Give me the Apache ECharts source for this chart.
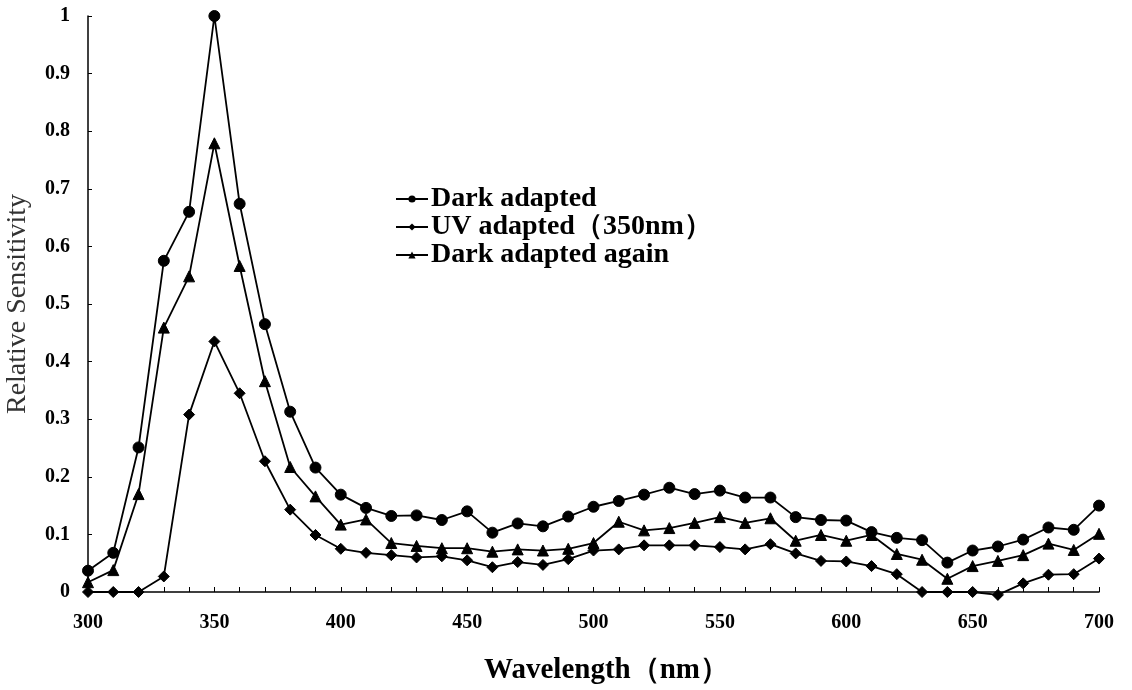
<!DOCTYPE html>
<html>
<head>
<meta charset="utf-8">
<script src="https://cdn.jsdelivr.net/npm/echarts@6/dist/echarts.min.js"></script>
<style>
html,body{margin:0;padding:0;background:#fff;}
#chart{width:1132px;height:690px;}
</style>
</head>
<body>
<div id="chart"></div>
<script>
const wavelengths = [300,310,320,330,340,350,360,370,380,390,400,410,420,430,440,450,460,470,480,490,500,510,520,530,540,550,560,570,580,590,600,610,620,630,640,650,660,670,680,690,700];
const darkAdapted = [0.037,0.068,0.251,0.575,0.660,1.000,0.674,0.465,0.313,0.216,0.169,0.146,0.132,0.133,0.125,0.140,0.103,0.119,0.114,0.131,0.148,0.158,0.169,0.181,0.170,0.176,0.164,0.164,0.130,0.125,0.124,0.104,0.094,0.090,0.051,0.072,0.079,0.091,0.112,0.108,0.150];
const uvAdapted = [0.000,0.000,0.000,0.027,0.308,0.435,0.345,0.227,0.143,0.099,0.075,0.068,0.064,0.060,0.062,0.055,0.043,0.052,0.047,0.057,0.072,0.074,0.081,0.081,0.081,0.078,0.074,0.083,0.067,0.054,0.053,0.045,0.031,0.000,0.000,0.000,-0.005,0.015,0.030,0.031,0.058];
const darkAgain = [0.017,0.038,0.170,0.459,0.548,0.779,0.566,0.366,0.217,0.166,0.117,0.126,0.085,0.080,0.076,0.076,0.070,0.074,0.072,0.075,0.085,0.122,0.107,0.111,0.120,0.130,0.120,0.128,0.089,0.099,0.089,0.099,0.066,0.056,0.023,0.045,0.054,0.064,0.084,0.073,0.101];
const seriesNames = ['Dark adapted', 'UV adapted（350nm）', 'Dark adapted again'];
const yTicks = ['0','0.1','0.2','0.3','0.4','0.5','0.6','0.7','0.8','0.9','1'];

const serif = '"Liberation Serif","Times New Roman","DejaVu Serif",serif';
const pair = arr => wavelengths.map((w, i) => [w, arr[i]]);

const chart = echarts.init(document.getElementById('chart'), null, {renderer: 'canvas'});
const lineStyle = {color: '#000', width: 1.8};
const itemStyle = {color: '#000', borderColor: '#000'};

chart.setOption({
  backgroundColor: '#fff',
  animation: false,
  grid: {left: 88, right: 33, top: 16, bottom: 98, outerBoundsMode: 'none', containLabel: false},
  legend: {
    show: true,
    orient: 'vertical',
    left: 390,
    top: 180,
    itemWidth: 32,
    itemHeight: 9,
    itemGap: 0,
    textStyle: {fontFamily: serif, fontWeight: 'bold', fontSize: 28, lineHeight: 26, color: '#000', padding: [0,0,0,-2]},
    data: seriesNames
  },
  xAxis: {
    type: 'value',
    min: 300, max: 700, interval: 50,
    name: 'Wavelength（nm）',
    nameLocation: 'middle',
    nameGap: 64,
    nameTextStyle: {fontFamily: serif, fontWeight: 'bold', fontSize: 29, color: '#000', padding: [0,0,0,26]},
    axisLine: {show: true, lineStyle: {color: '#000', width: 1.5}},
    axisTick: {show: true, inside: true, length: 5, lineStyle: {color: '#000'}},
    minorTick: {show: true, splitNumber: 5, length: 5, lineStyle: {color: '#000'}},
    axisLabel: {fontFamily: serif, fontWeight: 'bold', fontSize: 20, color: '#000', margin: 21},
    splitLine: {show: false},
    minorSplitLine: {show: false}
  },
  yAxis: {
    type: 'value',
    min: 0, max: 1, interval: 0.1,
    name: 'Relative Sensitivity',
    nameLocation: 'middle',
    nameGap: 56,
    nameTextStyle: {fontFamily: serif, fontSize: 28, color: '#333'},
    axisLine: {show: true, lineStyle: {color: '#000', width: 1.5}},
    axisTick: {show: true, inside: true, length: 4, lineStyle: {color: '#000'}},
    axisLabel: {
      fontFamily: serif, fontWeight: 'bold', fontSize: 20, color: '#000', margin: 18,
      formatter: (v) => yTicks[Math.round(v * 10)]
    },
    splitLine: {show: false}
  },
  series: [
    {name: seriesNames[0], type: 'line', data: pair(darkAdapted), symbol: 'circle', symbolSize: 11, lineStyle, itemStyle, clip: false},
    {name: seriesNames[1], type: 'line', data: pair(uvAdapted), symbol: 'diamond', symbolSize: 11, lineStyle, itemStyle, clip: false},
    {name: seriesNames[2], type: 'line', data: pair(darkAgain), symbol: 'triangle', symbolSize: 11, lineStyle, itemStyle, clip: false}
  ]
});
</script>
</body>
</html>
